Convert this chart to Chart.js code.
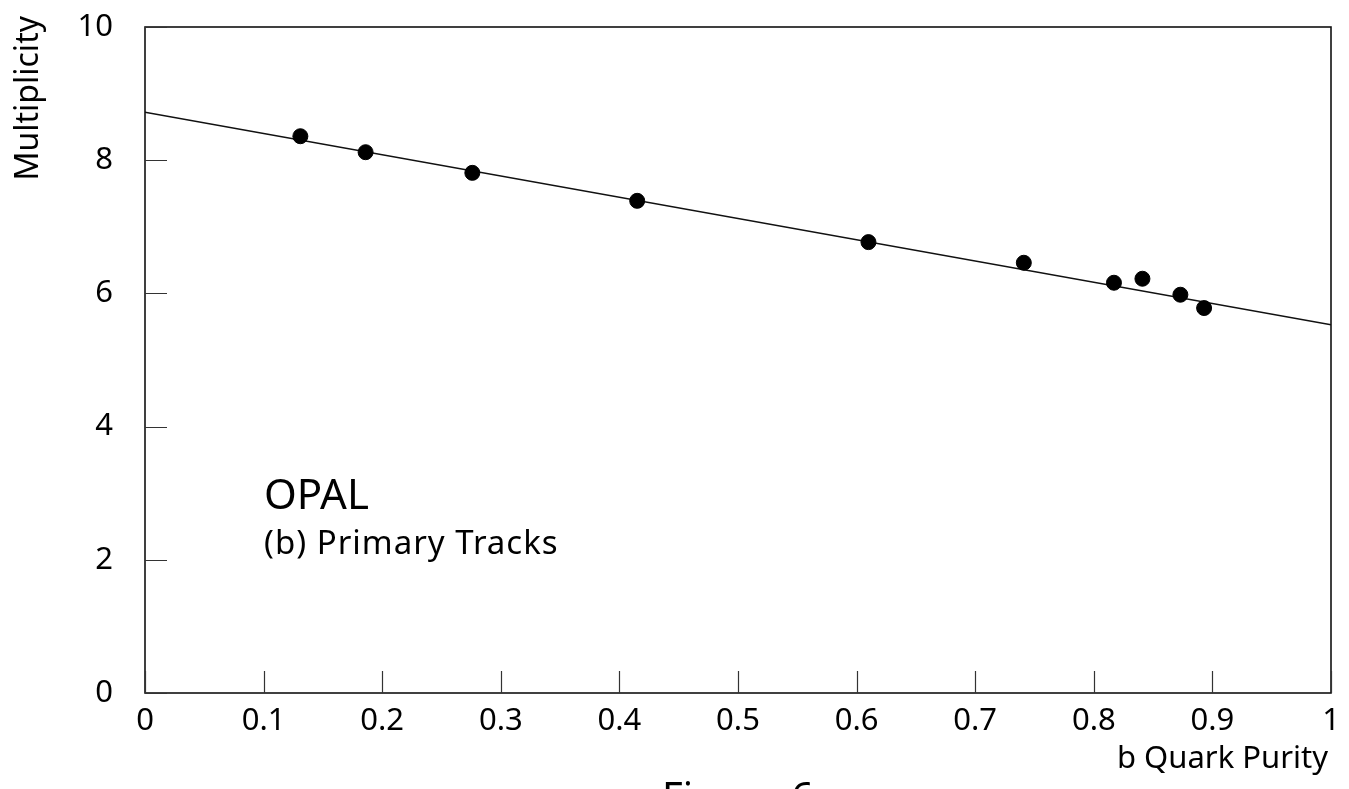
<!DOCTYPE html>
<html>
<head>
<meta charset="utf-8">
<script src="https://cdn.jsdelivr.net/npm/chart.js@4.4.1/dist/chart.umd.min.js"></script>
<style>
html,body{margin:0;padding:0;background:#fff;}
#wrap{width:1349px;height:789px;position:relative;}
</style>
</head>
<body>
<div id="wrap"><canvas id="c" width="1349" height="789"></canvas></div>
<script>
// Data
const purity = [0.131, 0.186, 0.276, 0.415, 0.610, 0.741, 0.817, 0.841, 0.873, 0.893];
const multiplicity = [8.36, 8.12, 7.81, 7.39, 6.77, 6.46, 6.16, 6.22, 5.98, 5.78];
const fitX = [0, 1];
const fitY = [8.72, 5.53];
const xTicks = [0, 0.1, 0.2, 0.3, 0.4, 0.5, 0.6, 0.7, 0.8, 0.9, 1];
const xTickLabels = ['0', '0.1', '0.2', '0.3', '0.4', '0.5', '0.6', '0.7', '0.8', '0.9', '1'];
const yTicks = [0, 2, 4, 6, 8, 10];
const yTickLabels = ['0', '2', '4', '6', '8', '10'];
const xTitle = 'b Quark Purity';
const yTitle = 'Multiplicity';
const label1 = 'OPAL';
const label2 = '(b) Primary Tracks';
const caption = 'Figure 6';

const FONT = '"Noto Sans", "DejaVu Sans", sans-serif';

const framePlugin = {
  id: 'frame',
  afterDraw(chart) {
    const ctx = chart.ctx;
    const a = chart.chartArea;
    const xs = chart.scales.x, ys = chart.scales.y;
    ctx.save();
    ctx.strokeStyle = '#111';
    ctx.lineWidth = 1.6;
    ctx.strokeRect(a.left, a.top, a.right - a.left, a.bottom - a.top);
    ctx.lineWidth = 1.2;
    ctx.strokeStyle = '#333';
    ctx.beginPath();
    xTicks.forEach(v => {
      const px = Math.round(xs.getPixelForValue(v)) + 0.5;
      ctx.moveTo(px, a.bottom);
      ctx.lineTo(px, a.bottom - 22);
    });
    yTicks.forEach(v => {
      const py = Math.round(ys.getPixelForValue(v)) + 0.5;
      ctx.moveTo(a.left, py);
      ctx.lineTo(a.left + 22, py);
    });
    ctx.stroke();

    ctx.fillStyle = '#000';
    // axis titles
    ctx.font = '31px ' + FONT;
    ctx.textBaseline = 'alphabetic';
    ctx.textAlign = 'right';
    ctx.fillText(xTitle, 1328, 768);
    ctx.save();
    ctx.translate(38, 16);
    ctx.rotate(-Math.PI / 2);
    ctx.textAlign = 'right';
    ctx.font = '32px ' + FONT;
    ctx.fillText(yTitle, 0, 0);
    ctx.restore();

    // annotations
    ctx.textAlign = 'left';
    ctx.font = '42px ' + FONT;
    ctx.fillText(label1, 264, 509);
    ctx.font = '33px ' + FONT;
    ctx.letterSpacing = '1px';
    ctx.fillText(label2, 264, 554);
    ctx.letterSpacing = '0px';
    ctx.font = '40px ' + FONT;
    ctx.fillText(caption, 662, 811);
    ctx.restore();
  }
};

new Chart(document.getElementById('c'), {
  type: 'scatter',
  data: {
    datasets: [
      {
        type: 'scatter',
        data: purity.map((x, i) => ({x: x, y: multiplicity[i]})),
        backgroundColor: '#000',
        borderColor: '#000',
        pointRadius: 7.5,
        pointHoverRadius: 7.5,
        order: 0
      },
      {
        type: 'line',
        data: fitX.map((x, i) => ({x: x, y: fitY[i]})),
        borderColor: '#111',
        borderWidth: 1.4,
        pointRadius: 0,
        fill: false,
        order: 1
      }
    ]
  },
  options: {
    responsive: false,
    animation: false,
    devicePixelRatio: 1,
    layout: {padding: {top: 27, right: 18, left: 0, bottom: 0}},
    plugins: {legend: {display: false}, tooltip: {enabled: false}},
    scales: {
      x: {
        type: 'linear',
        min: 0, max: 1,
        afterFit(s) { s.height = 96; s.paddingLeft = 0; s.paddingRight = 0; },
        afterBuildTicks(s) { s.ticks = xTicks.map(v => ({value: v})); },
        grid: {display: false, drawTicks: false},
        border: {display: false},
        ticks: {
          padding: 10,
          color: '#000',
          font: {family: FONT, size: 31},
          callback(v) { const i = xTicks.indexOf(v); return i >= 0 ? xTickLabels[i] : ''; },
          maxRotation: 0, autoSkip: false
        }
      },
      y: {
        type: 'linear',
        min: 0, max: 10,
        afterFit(s) { s.width = 145; s.paddingTop = 0; s.paddingBottom = 0; },
        afterBuildTicks(s) { s.ticks = yTicks.map(v => ({value: v})); },
        grid: {display: false, drawTicks: false},
        border: {display: false},
        ticks: {
          padding: 32,
          color: '#000',
          font: {family: FONT, size: 31},
          callback(v) { const i = yTicks.indexOf(v); return i >= 0 ? yTickLabels[i] : ''; },
          autoSkip: false
        }
      }
    }
  },
  plugins: [framePlugin]
});
</script>
</body>
</html>
